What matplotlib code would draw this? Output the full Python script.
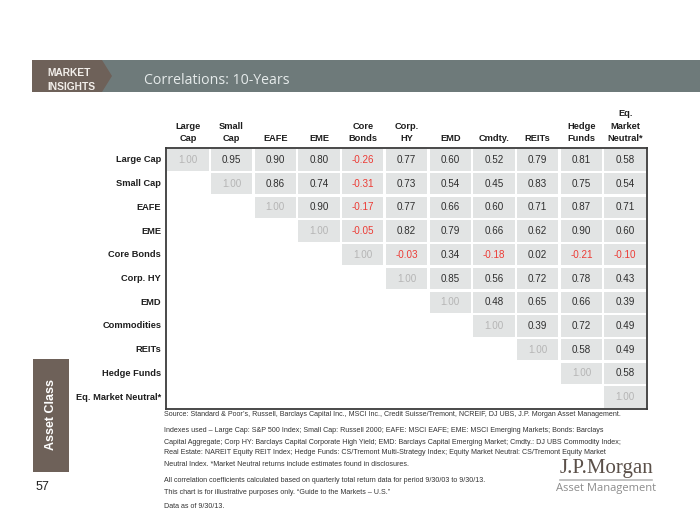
import numpy as np
import matplotlib
matplotlib.use("Agg")
import matplotlib.pyplot as plt
from matplotlib.patches import Rectangle, Polygon

plt.rcParams['font.family'] = ['Liberation Sans', 'DejaVu Sans']

# asset classes (rows) and column headers
row_labels = ["Large Cap", "Small Cap", "EAFE", "EME", "Core Bonds", "Corp. HY",
              "EMD", "Commodities", "REITs", "Hedge Funds", "Eq. Market Neutral*"]
col_labels = ["Large\nCap", "Small\nCap", "EAFE", "EME", "Core\nBonds", "Corp.\nHY",
              "EMD", "Cmdty.", "REITs", "Hedge\nFunds", "Eq.\nMarket\nNeutral*"]

# upper triangle of the correlation matrix, row by row (diagonal first)
r_large = [1.00, 0.95, 0.90, 0.80, -0.26, 0.77, 0.60, 0.52, 0.79, 0.81, 0.58]
r_small = [1.00, 0.86, 0.74, -0.31, 0.73, 0.54, 0.45, 0.83, 0.75, 0.54]
r_eafe = [1.00, 0.90, -0.17, 0.77, 0.66, 0.60, 0.71, 0.87, 0.71]
r_eme = [1.00, -0.05, 0.82, 0.79, 0.66, 0.62, 0.90, 0.60]
r_bonds = [1.00, -0.03, 0.34, -0.18, 0.02, -0.21, -0.10]
r_hy = [1.00, 0.85, 0.56, 0.72, 0.78, 0.43]
r_emd = [1.00, 0.48, 0.65, 0.66, 0.39]
r_cmdty = [1.00, 0.39, 0.72, 0.49]
r_reits = [1.00, 0.58, 0.49]
r_hedge = [1.00, 0.58]
r_mn = [1.00]
rows = [r_large, r_small, r_eafe, r_eme, r_bonds, r_hy, r_emd, r_cmdty, r_reits, r_hedge, r_mn]

notes = [
    "Source: Standard & Poor\u2019s, Russell, Barclays Capital Inc., MSCI Inc., Credit Suisse/Tremont, NCREIF, DJ UBS, J.P. Morgan Asset Management.",
    "Indexes used \u2013 Large Cap: S&P 500 Index; Small Cap: Russell 2000; EAFE: MSCI EAFE; EME: MSCI Emerging Markets; Bonds: Barclays",
    "Capital Aggregate; Corp HY: Barclays Capital Corporate High Yield; EMD: Barclays Capital Emerging Market; Cmdty.: DJ UBS Commodity Index;",
    "Real Estate: NAREIT Equity REIT Index; Hedge Funds: CS/Tremont Multi-Strategy Index; Equity Market Neutral: CS/Tremont Equity Market",
    "Neutral Index. *Market Neutral returns include estimates found in disclosures.",
    "All correlation coefficients calculated based on quarterly total return data for period 9/30/03 to 9/30/13.",
    "This chart is for illustrative purposes only. \u201cGuide to the Markets \u2013 U.S.\u201d",
    "Data as of 9/30/13.",
]
note_y = [415, 431, 442, 453, 464, 480, 493, 506]

W, H = 700, 525
fig = plt.figure(figsize=(7, 5.25), dpi=100)

# page layer in pixel coordinates
bg = fig.add_axes([0, 0, 1, 1])
bg.set_xlim(0, W)
bg.set_ylim(H, 0)
bg.axis("off")

# header band
bg.add_patch(Rectangle((32, 60), W - 32, 32, color="#6e7a7a", lw=0))
bg.add_patch(Polygon([(32, 60), (102, 60), (112, 76), (102, 92), (32, 92)],
                     closed=True, color="#6e6159", lw=0))
bg.text(47, 73, "MARKET", color="#f2eeea", fontsize=7.4, fontweight="bold",
        va="center", ha="left")
t = bg.text(47, 86.5, "INSIGHTS", color="#f2eeea", fontsize=7.4, fontweight="bold",
            va="center", ha="left")
t.set_clip_path(Rectangle((32, 60), 80, 32, transform=bg.transData))
bg.text(144, 81, "Correlations: 10-Years", color="#e6ebeb", fontsize=10.2,
        va="center", ha="left", family="Open Sans")

# side tab
bg.add_patch(Rectangle((33, 359), 36, 113, color="#6e6159", lw=0))
bg.text(51, 415, "Asset Class", rotation=90, color="white", fontsize=9,
        fontweight="bold", va="center", ha="center")
bg.text(42, 487, "57", color="#222222", fontsize=9, va="center", ha="center")

for s, y in zip(notes, note_y):
    bg.text(164, y, s, fontsize=5.1, color="#333333", va="center", ha="left")

# logo
bg.text(606, 469, "J.P.Morgan", family="Liberation Serif", fontsize=15,
        color="#5b5049", va="center", ha="center")
bg.plot([560, 652], [480, 480], color="#b8b8b8", lw=1.2)
bg.text(606, 489, "Asset Management", fontsize=8, color="#8c8c8c",
        va="center", ha="center", family="Open Sans")

# correlation table
x0, x1, y0, y1 = 166, 647, 148, 409
ax = fig.add_axes([x0 / W, 1 - y1 / H, (x1 - x0) / W, (y1 - y0) / H])
n = len(row_labels)
ax.set_xlim(0, n)
ax.set_ylim(n, 0)
ax.set_xticks([])
ax.set_yticks([])
for sp in ax.spines.values():
    sp.set_color("#3a3a3a")
    sp.set_linewidth(1.3)

gx = 1.2 / ((x1 - x0) / n)
gy = 1.2 / ((y1 - y0) / n)
for i, vals in enumerate(rows):
    for k, v in enumerate(vals):
        j = i + k
        ax.add_patch(Rectangle((j + gx, i + gy), 1 - 2 * gx, 1 - 2 * gy,
                               color="#e2e4e4", lw=0))
        if j == i:
            c = "#b5b5b5"
        elif v < 0:
            c = "#ec3b35"
        else:
            c = "#2e2e2e"
        ax.text(j + 0.5, i + 0.5, f"{v:.2f}", color=c, fontsize=7.1,
                ha="center", va="center")

for i, lab in enumerate(row_labels):
    ax.text(-0.11, i + 0.5, lab, fontsize=6.7, fontweight="bold", color="#1e1e1e",
            ha="right", va="center")
for j, lab in enumerate(col_labels):
    ax.text(j + 0.5, -0.22, lab, fontsize=6.7, fontweight="bold", color="#1e1e1e",
            ha="center", va="bottom", linespacing=1.45)

fig.savefig("out.png", dpi=100)
